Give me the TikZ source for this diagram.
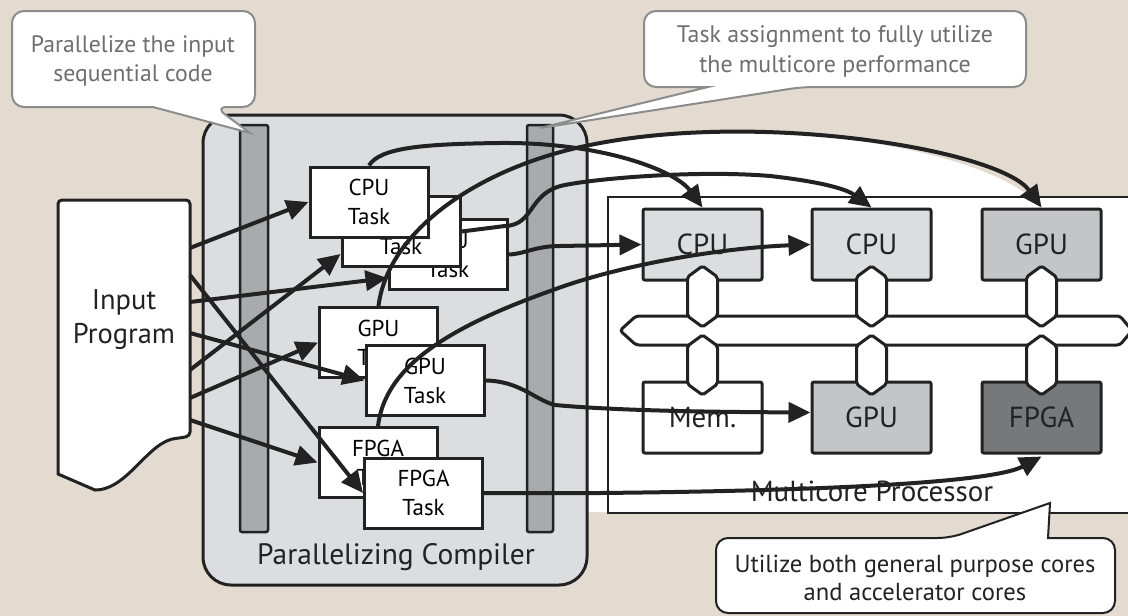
\documentclass[tikz,border=0pt]{standalone}
\usepackage{fontspec}
\setmainfont{PT Sans}
\usetikzlibrary{arrows.meta,calc}
\definecolor{bg}{HTML}{E4DBD0}
\definecolor{compfill}{HTML}{DCDDE0}
\definecolor{barfill}{HTML}{A9AAAE}
\definecolor{gpufill}{HTML}{C4C5C8}
\definecolor{fpgafill}{HTML}{77787C}
\definecolor{callgray}{HTML}{8C8C8C}
\definecolor{calltext}{HTML}{6E6E6E}
\definecolor{ink}{HTML}{222222}
\begin{document}
\begin{tikzpicture}[x=1pt,y=-1pt,
  taskbox/.style={draw=ink,line width=3pt,fill=white,minimum width=118pt,minimum height=70pt,inner sep=0pt,align=center,font=\fontsize{23}{29}\selectfont},
  corebox/.style={draw=ink,line width=3pt,rounded corners=2pt,minimum width=119pt,minimum height=71pt,inner sep=0pt,font=\fontsize{29}{30}\selectfont,text=ink},
  flow/.style={draw=ink,line width=4pt,-{Triangle[length=22pt,width=20pt]}},
  callout/.style={line width=2pt,fill=white,rounded corners=12pt},
  link/.style={draw=ink,line width=3pt,fill=white,rounded corners=2pt},
  ]
\useasboundingbox (0,0) rectangle (1128,616);
\fill[bg] (0,0) rectangle (1128,616);

% white area under the long arc
\fill[white] (585,512) -- (585,146) -- (590,145) .. controls (760,110) and (1000,150) .. (1041.5,209) -- (1041.5,512) -- cycle;

% compiler
\node[draw=ink,line width=3pt,fill=compfill,rounded corners=28pt,minimum width=384pt,minimum height=470pt,inner sep=0pt] (comp) at (395,350) {};
\node[draw=ink,line width=2.5pt,fill=barfill,rounded corners=2pt,minimum width=28pt,minimum height=407pt,inner sep=0pt] (barL) at (254,328.5) {};
\node[draw=ink,line width=2.5pt,fill=barfill,rounded corners=2pt,minimum width=26pt,minimum height=407pt,inner sep=0pt] (barR) at (540,328.5) {};
\node[anchor=base,font=\fontsize{29.5}{32}\selectfont,text=ink] (complabel) at (396,564) {Parallelizing Compiler};

% multicore processor
\node[draw=ink,line width=2pt,fill=white,minimum width=560pt,minimum height=316pt,inner sep=0pt,anchor=north west] (mc) at (607,196) {};
\node[anchor=base,font=\fontsize{29}{32}\selectfont,text=ink] (mclabel) at (872,501) {Multicore Processor};

\node[corebox,fill=compfill] (c1) at (702.5,244.5) {CPU};
\node[corebox,fill=compfill] (c2) at (871.5,244.5) {CPU};
\node[corebox,fill=gpufill] (g1) at (1041.5,244.5) {GPU};
\node[corebox,fill=white] (mem) at (702.5,417.5) {Mem.};
\node[corebox,fill=gpufill] (g2) at (871.5,417.5) {GPU};
\node[corebox,fill=fpgafill,text=ink] (fp) at (1041.5,417.5) {FPGA};

% bus
\filldraw[link,rounded corners=3pt] (620,330.5) -- (636,316) -- (1120,316) -- (1132,330.5) -- (1120,345) -- (636,345) -- cycle;
\foreach \x in {702.5,871.5,1041.5}{
  \filldraw[link] (\x,266) -- ({\x+15},277) -- ({\x+15},316) -- (\x,327) -- ({\x-15},316) -- ({\x-15},277) -- cycle;
  \filldraw[link] (\x,335) -- ({\x+15},346) -- ({\x+15},384) -- (\x,395) -- ({\x-15},384) -- ({\x-15},346) -- cycle;
}

% input program
\filldraw[fill=white,draw=ink,line width=3pt,rounded corners=4pt] (58,474) -- (58,200) -- (190,200) -- (190,436) -- (180,438) [sharp corners] .. controls (148,441) and (128,490) .. (95,490) -- cycle;
\node[align=center,font=\fontsize{28.5}{34}\selectfont,text=ink] (inprog) at (124,320) {Input\\Program};
\coordinate (ip1) at (190,248);
\coordinate (ip2) at (190,275);
\coordinate (ip3) at (190,302);
\coordinate (ip4) at (190,333);
\coordinate (ip5) at (190,370);
\coordinate (ip6) at (190,398);
\coordinate (ip7) at (190,420);

% tasks
\node[taskbox] (cpuC) at (448,254.5) {CPU\\Task};
\node[taskbox] (cpuB) at (401,231.5) {CPU\\Task};
\node[taskbox] (cpuA) at (369,202) {CPU\\Task};
\node[taskbox] (gpuA) at (378.5,342.5) {GPU\\Task};
\node[taskbox] (gpuB) at (425,380.5) {GPU\\Task};
\node[taskbox] (fpgaA) at (378,462.5) {FPGA\\Task};
\node[taskbox] (fpgaB) at (423.5,493) {FPGA\\Task};

% input arrows
\draw[flow] (ip1) -- (cpuA.west);
\draw[flow] (ip2) -- (fpgaB.west);
\draw[flow] (ip3) -- ([yshift=13pt]cpuC.south west);
\draw[flow] (ip4) -- (gpuB.west);
\draw[flow] (ip5) -- ([yshift=14pt]cpuB.south west);
\draw[flow] (ip6) -- (gpuA.west);
\draw[flow] (ip7) -- (fpgaA.west);

% assignment arrows
\draw[flow] (cpuA.north) .. controls (380,148) and (420,144) .. (500,143) .. controls (600,142) and (675,170) .. (c1.north);
\draw[flow] (cpuB.east) -- (505,226) .. controls (535,225) and (528,192) .. (565,185) .. controls (600,178) and (700,170) .. (770,176) .. controls (815,181) and (845,188) .. (c2.north);
\draw[flow] (cpuC.east) .. controls (525,254) and (535,246) .. (560,246) -- (c1.west);
\draw[flow] (gpuA.north) .. controls (388,230) and (480,167) .. (590,145) .. controls (760,110) and (1000,150) .. (g1.north);
\draw[flow] (fpgaA.north) .. controls (385,370) and (440,330) .. (553,290) .. controls (620,265) and (720,248) .. (c2.west);
\draw[flow] (gpuB.east) .. controls (520,381) and (535,400) .. (555,405) .. controls (620,411) and (720,412) .. ([yshift=5pt]g2.west);
\draw[flow] (fpgaB.east) -- (600,493) .. controls (800,491) and (990,484) .. ([yshift=-2pt]fp.south);

% callouts
\draw[callout,draw=callgray] (12,59) |- (255,11) |- (215,107) [sharp corners] -- (250,133) -- (153,107) [rounded corners=12pt] -| (12,59) -- cycle;
\node[align=center,text=calltext,font=\fontsize{23.7}{29}\selectfont] (note1) at (133,61) {Parallelize the input\\sequential code};
\draw[callout,draw=callgray] (644,49) |- (1026,11) |- (802,87) [sharp corners] -- (540,128) -- (708,87) [rounded corners=12pt] -| (644,49) -- cycle;
\node[align=center,text=calltext,font=\fontsize{23.9}{30}\selectfont] (note2) at (835,51) {Task assignment to fully utilize\\the multicore performance};
\draw[callout,draw=ink] (716,580) |- (950,538) [sharp corners] -- (1050,503) -- (1048,538) [rounded corners=12pt] -| (1115,580) |- (716,613) -- cycle;
\node[align=center,text=ink,font=\fontsize{24.6}{28}\selectfont] (note3) at (915,578) {Utilize both general purpose cores\\and accelerator cores};
\end{tikzpicture}
\end{document}
